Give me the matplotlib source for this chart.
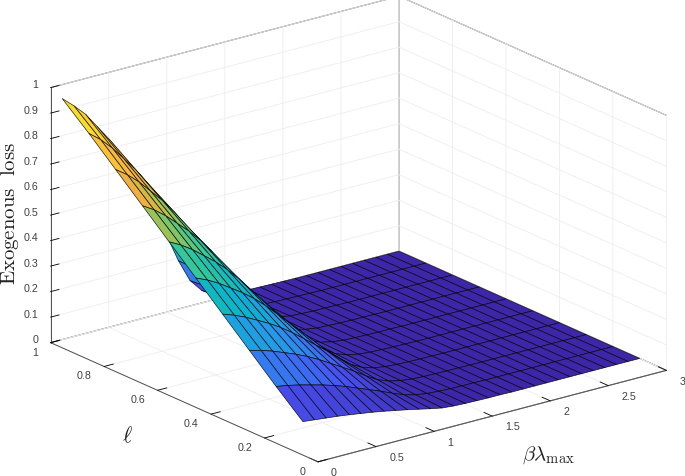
import numpy as np
import matplotlib
matplotlib.use("Agg")
import matplotlib.pyplot as plt
from matplotlib.colors import LinearSegmentedColormap, Normalize
from matplotlib.ticker import NullFormatter
from mpl_toolkits.mplot3d import proj3d

beta = [round(0.1 * i, 1) for i in range(1, 31)]
ell = [round(0.1 * i, 1) for i in range(1, 11)]
tail = [0.0] * 10
loss_rows = [
    [.099, .094, .089, .084, .078, .071, .064, .056, .047, .038, .028, .018, .009, .005, .003, .002, .001, .001, 0, 0] + tail,
    [.190, .182, .172, .160, .148, .134, .118, .100, .082, .064, .044, .026, .014, .007, .004, .002, .001, .001, 0, 0] + tail,
    [.285, .273, .258, .240, .222, .201, .177, .150, .123, .096, .066, .039, .021, .011, .005, .003, .002, .001, .001, 0] + tail,
    [.380, .364, .344, .320, .296, .268, .236, .200, .164, .128, .088, .052, .028, .014, .007, .004, .002, .001, .001, 0] + tail,
    [.475, .455, .430, .400, .370, .335, .295, .250, .205, .160, .110, .065, .035, .018, .009, .005, .003, .002, .001, 0] + tail,
    [.570, .546, .516, .480, .444, .402, .354, .300, .246, .192, .132, .078, .042, .021, .011, .005, .003, .002, .001, .001] + tail,
    [.665, .637, .602, .560, .518, .469, .413, .350, .287, .224, .154, .091, .049, .025, .013, .006, .004, .002, .001, .001] + tail,
    [.760, .728, .688, .640, .592, .536, .472, .400, .328, .256, .176, .104, .056, .028, .014, .007, .004, .002, .002, .001] + tail,
    [.855, .819, .774, .720, .666, .603, .531, .450, .369, .288, .190, .110, .058, .026, .012, .006, .004, .003, .002, .001] + tail,
    [.945, .905, .860, .800, .740, .670, .590, .500, .405, .300, .190, .100, .050, .020, .010, .005, .004, .003, .002, .001] + tail,
]
xticks = [0, 0.5, 1, 1.5, 2, 2.5, 3]
xticklabels = ["0", "0.5", "1", "1.5", "2", "2.5", "3"]
yticks = [0, 0.2, 0.4, 0.6, 0.8, 1]
yticklabels = ["0", "0.2", "0.4", "0.6", "0.8", "1"]
zticks = [round(0.1 * i, 1) for i in range(11)]
zticklabels = ["0", "0.1", "0.2", "0.3", "0.4", "0.5", "0.6", "0.7", "0.8", "0.9", "1"]

parula = LinearSegmentedColormap.from_list("parula", [
    (0.000, (.2422, .1504, .6603)), (0.125, (.2810, .3228, .9579)),
    (0.250, (.1540, .5902, .9218)), (0.375, (.0300, .7100, .8000)),
    (0.500, (.2000, .7800, .6000)), (0.625, (.6800, .7600, .3000)),
    (0.720, (.9800, .6800, .2400)), (0.850, (.9800, .8000, .2000)),
    (1.000, (.9769, .9839, .0805))])

W = 685; H = 477
fig = plt.figure(figsize=(W / 100, H / 100), dpi=100, facecolor="white")
AW = 600
cx, cy = 358.5, H - 230
ax = fig.add_axes([(cx - .5135 * AW) / W, (cy - .5135 * AW) / H, AW / W, AW / H],
                  projection="3d", proj_type="ortho", facecolor="none")
ax.set_box_aspect((1, 1, 0.618), zoom=1.0966)
ax.view_init(elev=20, azim=-127.5)

X, Y = np.meshgrid(beta, ell)
Z = np.array(loss_rows)
colors = parula(Normalize(Z.min(), Z.max())(Z))
surf = ax.plot_surface(X, Y, Z, rstride=1, cstride=1, facecolors=colors, shade=False, antialiased=True)
surf.set_edgecolor((0, 0, 0, .85))
surf.set_linewidth(0.5)

ax.set_xlim(0, 3, view_margin=0); ax.set_ylim(0, 1, view_margin=0); ax.set_zlim(0, 1, view_margin=0)
ax.set_xticks(xticks); ax.set_yticks(yticks); ax.set_zticks(zticks)

dark = (.3, .3, .3, 1)
factors = {"x": 0.38, "y": 0.33, "z": 0.30}
for name, axis in (("x", ax.xaxis), ("y", ax.yaxis), ("z", ax.zaxis)):
    axis.set_major_formatter(NullFormatter())
    axis.set_pane_color((1, 1, 1, 1))
    axis.pane.set_edgecolor(dark)
    axis.pane.set_linewidth(0.7)
    axis.line.set_color(dark)
    axis.line.set_linewidth(0.7)
    axis._axinfo["grid"]["color"] = (.93, .93, .93, 1)
    axis._axinfo["grid"]["linewidth"] = 0.6
    axis._axinfo["tick"]["inward_factor"] = 0.0
    axis._axinfo["tick"]["outward_factor"] = factors[name]
    axis._axinfo["tick"]["linewidth"] = {True: 0.6, False: 0.6}
    axis._axinfo["tick"]["color"] = dark

tick_style = dict(fontsize=7.7, family="Liberation Sans", color="#404040", va="center")
ax.apply_aspect()
M = ax.get_proj()
def tick_text(x, y, z, s, ha, dx=0, dy=0):
    xp, yp, _ = proj3d.proj_transform(x, y, z, M)
    px, py = ax.transData.transform((xp, yp))
    fig.text((px + dx) / W, (py + dy) / H, s, ha=ha, **tick_style)

for v, s in zip(xticks, xticklabels):
    tick_text(v, -0.049, -0.023, s, "left", dy=1.5)
for v, s in zip(yticks, yticklabels):
    tick_text(-0.125, v, -0.024, s, "right", dx=2, dy=1)
for v, s in zip(zticks, zticklabels):
    tick_text(0, 1.0526, v - 0.011, s, "right", dx=2)

plt.rcParams["mathtext.fontset"] = "cm"
fig.text(10 / W, 1 - 213 / H, r"$\mathrm{Exogenous\ \ loss}$", rotation=90, fontsize=15,
         ha="center", va="center", color="#222222")
fig.text(127 / W, 1 - 436 / H, r"$\ell$", fontsize=16, ha="center", va="center", color="#222222")
fig.text(548 / W, 1 - 455 / H, r"$\beta\lambda_{\mathrm{max}}$", fontsize=15, ha="center", va="center", color="#222222")

fig.savefig("out.png", dpi=100)
